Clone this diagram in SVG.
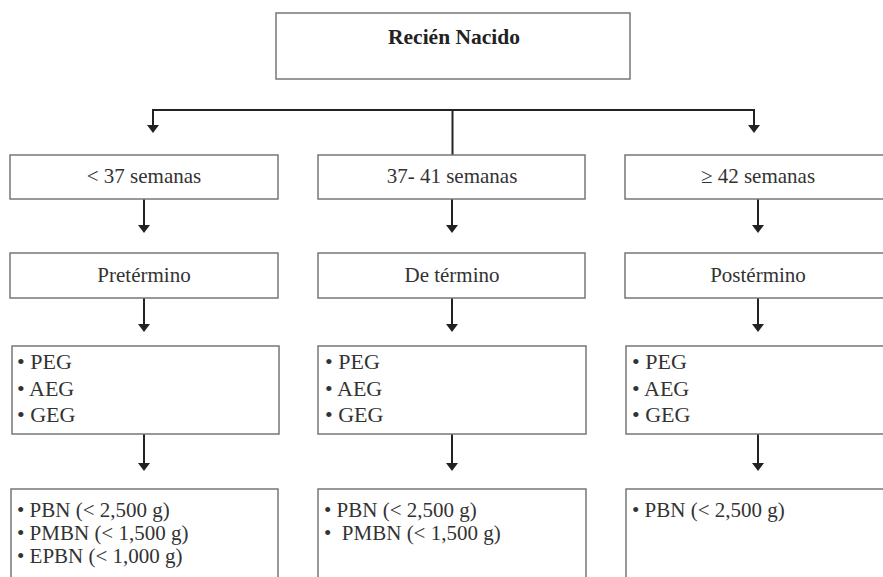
<svg xmlns="http://www.w3.org/2000/svg" width="883" height="577" viewBox="0 0 883 577">
  <style>
    .box { fill: #ffffff; stroke: #777777; stroke-width: 1.5; }
    .lbl { font-family: "Liberation Serif", "Times New Roman", serif; font-size: 21px; fill: #333333; text-anchor: middle; }
    .title { font-family: "Liberation Serif", "Times New Roman", serif; font-size: 21.5px; font-weight: bold; fill: #222222; text-anchor: middle; }
    .item { font-family: "Liberation Serif", "Times New Roman", serif; font-size: 22px; fill: #333333; white-space: pre; }
    .item2 { font-family: "Liberation Serif", "Times New Roman", serif; font-size: 21px; fill: #333333; white-space: pre; }
    .conn { fill: none; stroke: #222222; stroke-width: 2; }
  </style>
  <defs>
    <marker id="arrow" viewBox="0 0 8 12" refX="0" refY="6" markerWidth="8" markerHeight="12" markerUnits="userSpaceOnUse" orient="auto">
      <path d="M0,0 L8,6 L0,12 Z" fill="#222222"/>
    </marker>
  </defs>
  <rect width="883" height="577" fill="#ffffff"/>

  <g id="connectors">
    <path class="conn" d="M153,110 H754"/>
    <path class="conn" d="M153,109 V125" marker-end="url(#arrow)"/>
    <path class="conn" d="M754,109 V125" marker-end="url(#arrow)"/>
    <path class="conn" d="M452.5,110 V155" marker-end="url(#arrow)"/>
    <path class="conn" d="M144,199 V225" marker-end="url(#arrow)"/>
    <path class="conn" d="M452,199 V225" marker-end="url(#arrow)"/>
    <path class="conn" d="M758,199 V225" marker-end="url(#arrow)"/>
    <path class="conn" d="M144,298 V324" marker-end="url(#arrow)"/>
    <path class="conn" d="M452,298 V324" marker-end="url(#arrow)"/>
    <path class="conn" d="M758,298 V324" marker-end="url(#arrow)"/>
    <path class="conn" d="M144,434 V463" marker-end="url(#arrow)"/>
    <path class="conn" d="M452,434 V463" marker-end="url(#arrow)"/>
    <path class="conn" d="M758,434 V463" marker-end="url(#arrow)"/>
  </g>

  <g id="recien-nacido">
    <rect class="box" x="276" y="13" width="354" height="66"/>
    <text class="title" x="454" y="44">Recién Nacido</text>
  </g>

  <g id="menos-37">
    <rect class="box" x="10" y="155" width="268" height="44"/>
    <text class="lbl" x="144" y="183">&lt; 37 semanas</text>
  </g>
  <g id="s37-41">
    <rect class="box" x="318" y="155" width="267" height="44"/>
    <text class="lbl" x="452" y="183">37- 41 semanas</text>
  </g>
  <g id="mayor-42">
    <rect class="box" x="625" y="155" width="268" height="44"/>
    <text class="lbl" x="758" y="183">≥ 42 semanas</text>
  </g>

  <g id="pretermino">
    <rect class="box" x="10" y="253" width="268" height="45"/>
    <text class="lbl" x="144" y="282">Pretérmino</text>
  </g>
  <g id="de-termino">
    <rect class="box" x="318" y="253" width="267" height="45"/>
    <text class="lbl" x="452" y="282">De término</text>
  </g>
  <g id="postermino">
    <rect class="box" x="625" y="253" width="268" height="45"/>
    <text class="lbl" x="758" y="282">Postérmino</text>
  </g>

  <g id="eg-pre">
    <rect class="box" x="12" y="346" width="267" height="88"/>
    <text class="item" x="17" y="369">• PEG</text>
    <text class="item" x="17" y="396">• AEG</text>
    <text class="item" x="17" y="422">• GEG</text>
  </g>
  <g id="eg-term">
    <rect class="box" x="318" y="346" width="268" height="88"/>
    <text class="item" x="325" y="369">• PEG</text>
    <text class="item" x="325" y="396">• AEG</text>
    <text class="item" x="325" y="422">• GEG</text>
  </g>
  <g id="eg-post">
    <rect class="box" x="626" y="346" width="268" height="88"/>
    <text class="item" x="632" y="369">• PEG</text>
    <text class="item" x="632" y="396">• AEG</text>
    <text class="item" x="632" y="422">• GEG</text>
  </g>

  <g id="peso-pre">
    <rect class="box" x="11" y="489" width="267" height="100"/>
    <text class="item2" x="17" y="517">• PBN (&lt; 2,500 g)</text>
    <text class="item2" x="17" y="540">• PMBN (&lt; 1,500 g)</text>
    <text class="item2" x="17" y="563">• EPBN (&lt; 1,000 g)</text>
  </g>
  <g id="peso-term">
    <rect class="box" x="318" y="489" width="268" height="100"/>
    <text class="item2" x="324" y="517">• PBN (&lt; 2,500 g)</text>
    <text class="item2" x="324" y="540">•  PMBN (&lt; 1,500 g)</text>
  </g>
  <g id="peso-post">
    <rect class="box" x="626" y="489" width="268" height="100"/>
    <text class="item2" x="632" y="517">• PBN (&lt; 2,500 g)</text>
  </g>
</svg>
